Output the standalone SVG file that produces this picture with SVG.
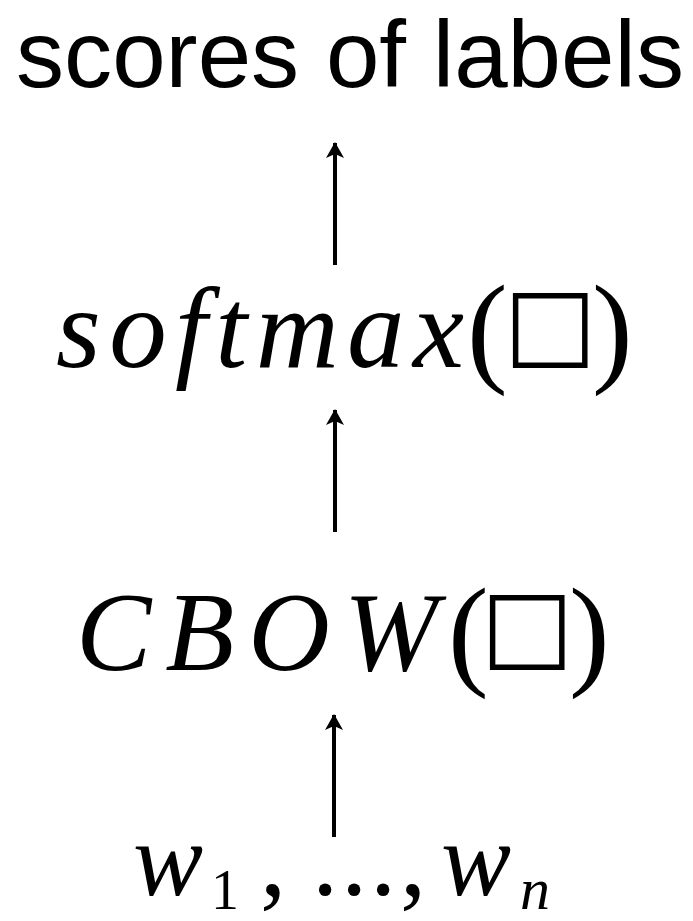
<svg xmlns="http://www.w3.org/2000/svg" width="693" height="921" viewBox="0 0 693 921">
  <style>
    .sans { font-family: "Liberation Sans", Arial, sans-serif; fill: #000; }
    .mi { font-family: "Liberation Serif", "DejaVu Serif", serif; font-style: italic; fill: #000; }
    .rm { font-family: "Liberation Serif", "DejaVu Serif", serif; font-style: normal; fill: #000; }
    .box { font-family: "DejaVu Sans", sans-serif; font-style: normal; fill: #000; letter-spacing: -20px; }
    .lp { letter-spacing: -8px; }
    .conn { stroke: #000; stroke-width: 4; fill: none; }
  </style>
  <defs>
    <marker id="arrow" markerUnits="userSpaceOnUse" viewBox="0 0 16 18" markerWidth="16" markerHeight="18" refX="15" refY="9" orient="auto">
      <path d="M0,0 L16,9 L0,18 L4,9 z" fill="#000"/>
    </marker>
  </defs>
  <rect width="693" height="921" fill="#fff"/>

  <g id="scores">
    <text class="sans" x="16" y="87" font-size="95" textLength="668" lengthAdjust="spacingAndGlyphs">scores of labels</text>
  </g>

  <g id="softmax">
    <text class="mi" x="56" y="367" font-size="115" textLength="408" lengthAdjust="spacing">softmax</text>
    <text class="rm" y="370" font-size="122"><tspan class="lp" x="467">(</tspan><tspan class="box" x="504" y="356" font-size="98">□</tspan><tspan x="592" y="370">)</tspan></text>
  </g>

  <g id="cbow">
    <text class="mi" x="76" y="670" font-size="113" textLength="362" lengthAdjust="spacing">CBOW</text>
    <text class="rm" y="673" font-size="122"><tspan class="lp" x="448">(</tspan><tspan class="box" x="481" y="658" font-size="98">□</tspan><tspan x="569" y="673">)</tspan></text>
  </g>

  <g id="words">
    <text class="rm" y="895" font-size="105"><tspan class="mi" x="133">w</tspan><tspan x="211" y="909" font-size="56">1</tspan><tspan x="260" y="895">,</tspan><tspan x="312">.</tspan><tspan x="341">.</tspan><tspan x="370">.</tspan><tspan x="400">,</tspan><tspan class="mi" x="441">w</tspan><tspan class="mi" x="520" y="909" font-size="60">n</tspan></text>
  </g>

  <g id="connectors">
    <line class="conn" x1="335" y1="265" x2="335" y2="143" marker-end="url(#arrow)"/>
    <line class="conn" x1="335" y1="532" x2="335" y2="410" marker-end="url(#arrow)"/>
    <line class="conn" x1="334" y1="837" x2="334" y2="715" marker-end="url(#arrow)"/>
  </g>
</svg>
